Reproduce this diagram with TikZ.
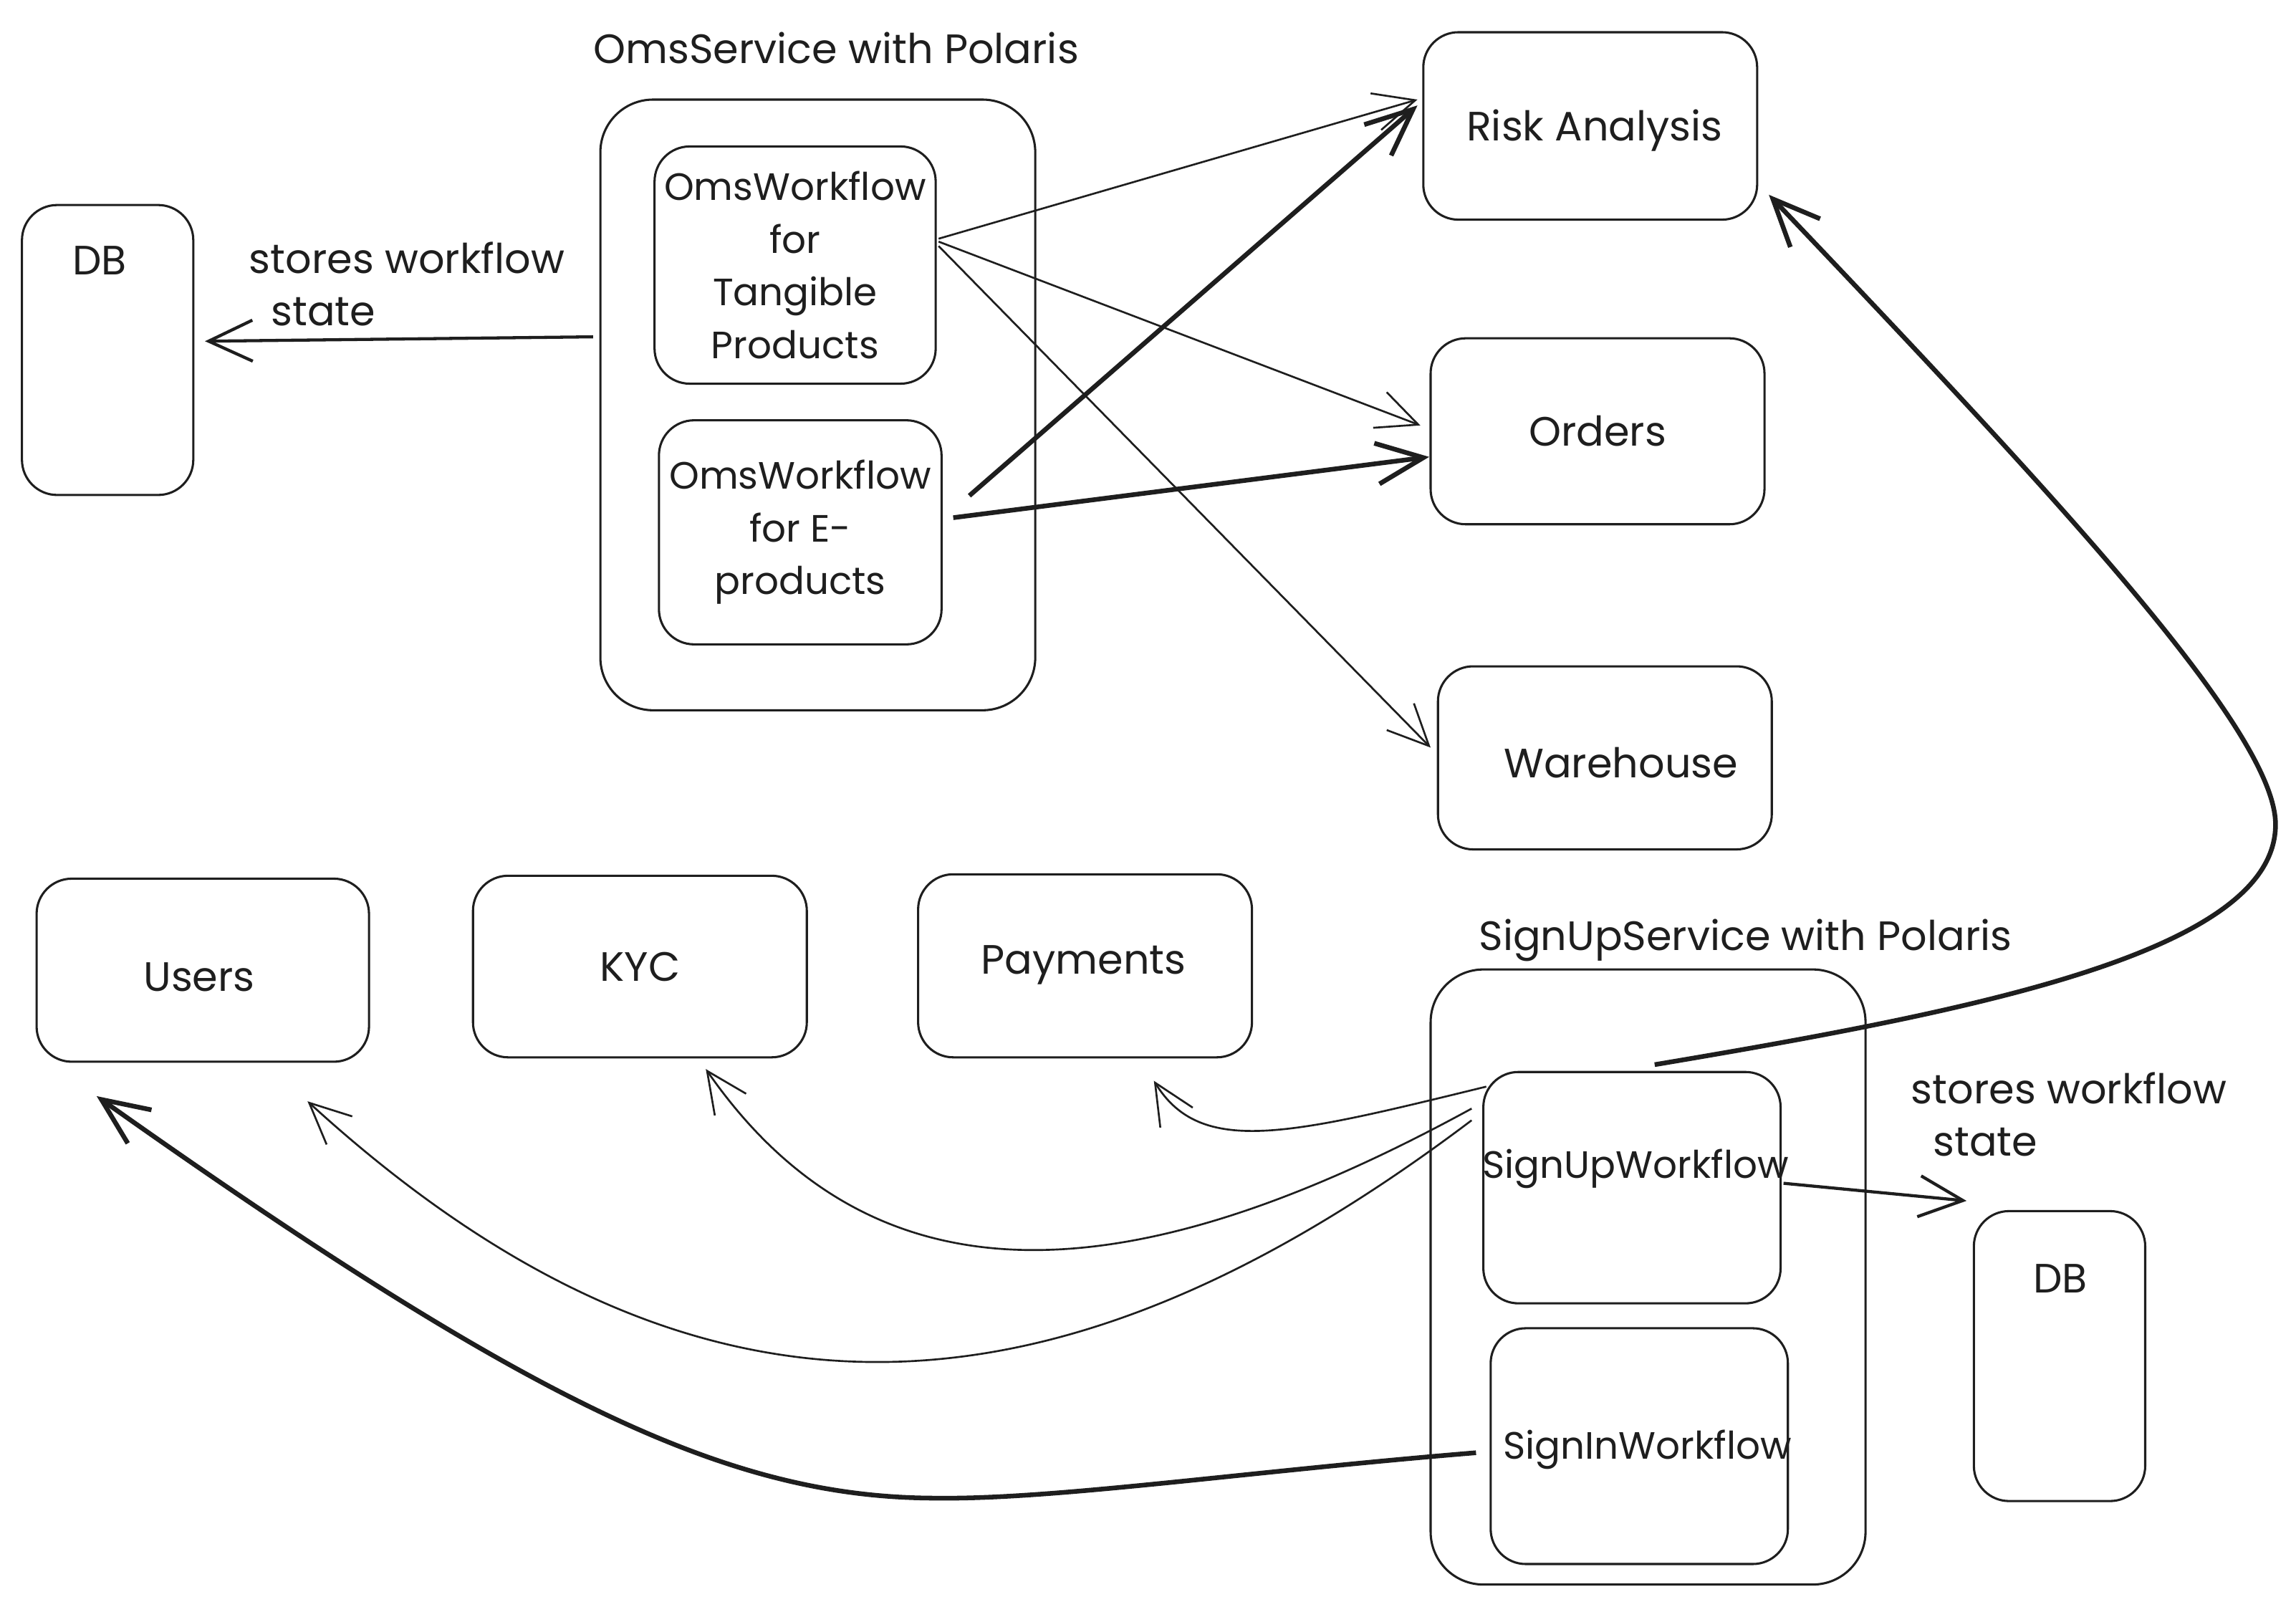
\documentclass[tikz,border=0pt]{standalone}
\usepackage{fontspec}
\setmainfont{Poppins}
\usetikzlibrary{arrows.meta,calc}
\definecolor{ink}{HTML}{1E1E1E}
\begin{document}
\begin{tikzpicture}[x=1pt,y=-1pt,
  every node/.style={text=ink, font=\fontsize{28}{36}\selectfont},
  box/.style={draw=ink, line width=1.5pt, rounded corners=24pt, inner sep=0pt, outer sep=0pt, align=center},
  txt/.style={inner sep=0pt, align=center},
  small/.style={font=\fontsize{26}{36}\selectfont},
  thinarrow/.style={draw=ink, line width=1.3pt, -{Straight Barb[length=28pt,width=26pt]}},
  midarrow/.style={draw=ink, line width=2.1pt, -{Straight Barb[length=30pt,width=28pt]}},
  thickarrow/.style={draw=ink, line width=3.2pt, -{Straight Barb[length=32pt,width=28pt]}},
  ]
\useasboundingbox (0,0) rectangle (1568,1097.35);
\fill[white] (0,0) rectangle (1568,1097.35);

% ---- order management service ----
\node[txt] (omsTitle) at (571,33) {OmsService with Polaris};
\node[box, rounded corners=36pt, minimum width=297pt, minimum height=417pt] (oms) at (558.5,276.5) {};
\node[box, small, minimum width=192pt, minimum height=162pt] (omsT) at (543,181) {OmsWorkflow\\for\\Tangible\\Products};
\node[box, small, minimum width=193pt, minimum height=153pt] (omsE) at (546.5,363.5) {OmsWorkflow\\for E-\\products};

\node[box, minimum width=117pt, minimum height=198pt] (db1) at (73.5,239) {};
\node[txt] (db1txt) at (68,178) {DB};
\node[txt, align=left, anchor=west] (store1) at (170,194) {stores workflow\\\hspace*{15pt}state};

% ---- downstream services ----
\node[box, minimum width=228pt, minimum height=128pt] (risk) at (1086,86) {};
\node[txt] (risktxt) at (1089,89) {Risk Analysis};
\node[box, minimum width=228pt, minimum height=127pt] (orders) at (1091,294.5) {Orders};
\node[box, minimum width=228pt, minimum height=125pt] (warehouse) at (1096,517.5) {};
\node[txt] (warehousetxt) at (1107,521) {Warehouse};

\node[box, minimum width=227pt, minimum height=125pt] (users) at (138.5,662.5) {};
\node[txt] (userstxt) at (136,667) {Users};
\node[box, minimum width=228pt, minimum height=124pt] (kyc) at (437,660) {KYC};
\node[box, minimum width=228pt, minimum height=125pt] (payments) at (741,659.5) {};
\node[txt] (paymentstxt) at (740,659) {Payments};

% ---- sign-up service ----
\node[txt] (suTitle) at (1192,642) {SignUpService with Polaris};
\node[box, rounded corners=36pt, minimum width=297pt, minimum height=420pt] (su) at (1125.5,872) {};
\node[box, minimum width=203pt, minimum height=158pt] (signup) at (1114.5,811) {};
\node[txt, small] (signuptxt) at (1117,798) {SignUpWorkflow};
\node[box, minimum width=203pt, minimum height=161pt] (signin) at (1119.5,987.5) {};
\node[txt, small] (signintxt) at (1125,990) {SignInWorkflow};

\node[box, minimum width=117pt, minimum height=198pt] (db2) at (1406.5,926) {};
\node[txt] (db2txt) at (1407,873) {DB};
\node[txt, align=left, anchor=west] (store2) at (1305,761) {stores workflow\\\hspace*{15pt}state};

% ---- connectors from the order workflows ----
\draw[thinarrow] ($(omsT.east)+(2,-18)$) -- ($(risk.west)+(-4,-18)$);
\draw[thinarrow] ($(omsT.east)+(2,-16)$) -- ($(orders.west)+(-7,-4)$);
\draw[thinarrow] ($(omsT.east)+(2,-13)$) -- ($(warehouse.west)+(-5,-7)$);
\draw[thickarrow] ($(omsE.east)+(19,-25)$) -- ($(risk.west)+(-4,-14)$);
\draw[thickarrow] ($(omsE.east)+(8,-10)$) -- ($(orders.west)+(-1,17.5)$);
\draw[midarrow] ($(oms.west)+(-5,-46.5)$) -- ($(db1.east)+(8,-6)$);

% ---- connectors from the sign-up workflows ----
\draw[midarrow] ($(signup.east)+(2,-3)$) -- ($(db2.west)+(-5,-106)$);
\draw[thickarrow] ($(signup.north)+(15.5,-5)$) .. controls (1350,690) and (1554,650) .. (1554,563)
  .. controls (1554,500) and (1408,343) .. ($(risk.south east)+(8,-17)$);
\draw[thinarrow] ($(signup.north west)+(2,10)$) .. controls (880,775) and (820,790) .. ($(payments.south)+(47,16)$);
\draw[thinarrow] ($(signup.north west)+(-8,25)$) .. controls (780,880) and (600,900) .. ($(kyc.south)+(45,8)$);
\draw[thinarrow] ($(signup.north west)+(-8,33)$) .. controls (720,980) and (475,994) .. ($(users.south)+(71.5,27)$);
\draw[thickarrow] ($(signin.west)+(-10,4.5)$) .. controls (850,1005) and (720,1024) .. (640,1023)
  .. controls (500,1023) and (366,961) .. ($(users.south west)+(41,23.5)$);
\end{tikzpicture}
\end{document}
